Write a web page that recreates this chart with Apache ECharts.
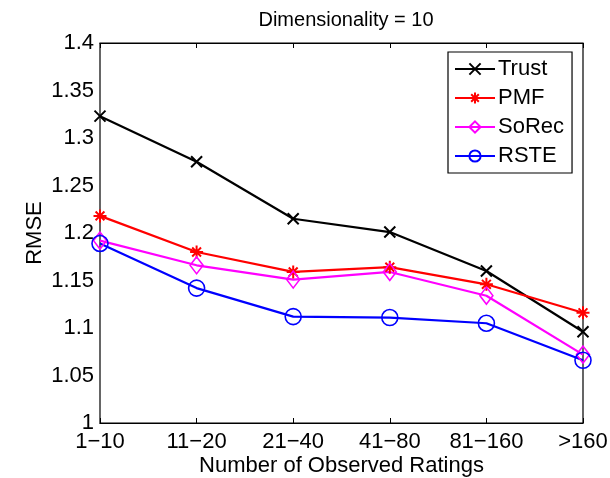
<!DOCTYPE html>
<html><head><meta charset="utf-8">
<script src="https://cdn.jsdelivr.net/npm/echarts@6/dist/echarts.min.js"></script>
<style>html,body{margin:0;padding:0;background:#fff}#c{width:610px;height:478px}</style>
</head><body><div id="c"></div>
<script>
const categories = ['1\u221210','11\u221220','21\u221240','41\u221280','81\u2212160','>160'];
const trust = [1.323, 1.275, 1.215, 1.201, 1.160, 1.096];
const pmf   = [1.218, 1.180, 1.159, 1.164, 1.146, 1.116];
const sorec = [1.192, 1.166, 1.151, 1.159, 1.134, 1.072];
const rste  = [1.189, 1.142, 1.112, 1.111, 1.105, 1.066];
const yTicks = {min: 1, max: 1.4, interval: 0.05};

const FONT = 'Liberation Sans';
const crossPath = 'path://M0,0L10,10M10,0L0,10';
const starPath = 'path://M5,0L5,10M0,5L10,5M1.6,1.6L8.4,8.4M8.4,1.6L1.6,8.4';

function mk(name, data, color, symbol, size, lw) {
  return {
    name, type: 'line', data, symbol, symbolSize: size,
    lineStyle: {color, width: 2.2},
    itemStyle: {color: symbol.startsWith('path') ? color : 'none', borderColor: color, borderWidth: lw},
    emphasis: {disabled: true}, animation: false, z: 3
  };
}

const chart = echarts.init(document.getElementById('c'));
const axisCommon = {
  axisLine: {lineStyle: {color: '#000', width: 1.2}},
  axisTick: {inside: true, length: 5, lineStyle: {color: '#000'}},
  splitLine: {show: false}
};
chart.setOption({
  animation: false,
  title: {text: 'Dimensionality = 10', left: 341, top: 5, textAlign: 'center',
    textStyle: {fontFamily: FONT, fontSize: 20, fontWeight: 'normal', color: '#000'}},
  grid: {left: 100, right: 27, top: 43, bottom: 55, show: true, borderColor: '#000', borderWidth: 1.2,
    outerBoundsMode: 'none', containLabel: false},
  legend: {
    orient: 'vertical', left: 448, top: 52, padding: [6, 8, 6, 6],
    borderColor: '#000', borderWidth: 1.2, backgroundColor: '#fff',
    itemWidth: 40, itemHeight: 14, itemGap: 7,
    textStyle: {fontFamily: FONT, fontSize: 22, color: '#000', padding: [0, 0, 0, -2]},
    data: ['Trust', 'PMF', 'SoRec', 'RSTE']
  },
  xAxis: [
    Object.assign({type: 'category', data: categories, boundaryGap: false,
      name: 'Number of Observed Ratings', nameLocation: 'middle', nameGap: 32, nameMoveOverlap: false,
      nameTextStyle: {fontFamily: FONT, fontSize: 22, color: '#000'},
      axisLabel: {fontFamily: FONT, fontSize: 22, color: '#000', margin: 8}}, axisCommon),
    Object.assign({type: 'category', data: categories, boundaryGap: false, position: 'top',
      axisLabel: {show: false}}, axisCommon)
  ],
  yAxis: [
    Object.assign({type: 'value', min: yTicks.min, max: yTicks.max, interval: yTicks.interval,
      name: 'RMSE', nameLocation: 'middle', nameGap: 54, nameMoveOverlap: false,
      nameTextStyle: {fontFamily: FONT, fontSize: 22, color: '#000'},
      axisLabel: {fontFamily: FONT, fontSize: 22, color: '#000', margin: 6}}, axisCommon),
    Object.assign({type: 'value', min: yTicks.min, max: yTicks.max, interval: yTicks.interval,
      position: 'right', axisLabel: {show: false}}, axisCommon)
  ],
  series: [
    mk('Trust', trust, '#000000', crossPath, 11, 2),
    mk('PMF', pmf, '#ff0000', starPath, 13, 2),
    mk('SoRec', sorec, '#ff00ff', 'diamond', [13, 17], 1.6),
    mk('RSTE', rste, '#0000ff', 'circle', 16, 1.6)
  ]
});
</script></body></html>
